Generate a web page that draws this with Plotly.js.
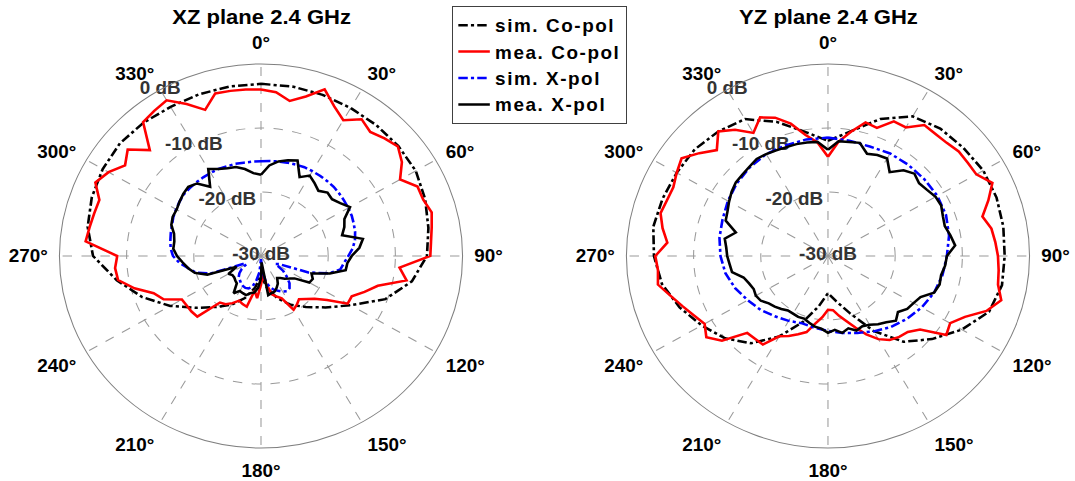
<!DOCTYPE html>
<html>
<head>
<meta charset="utf-8">
<script src="https://cdn.plot.ly/plotly-3.0.1.min.js"></script>
<style>
  html, body { margin:0; padding:0; background:#fff; overflow:hidden; }
  #wrap { width:1075px; height:481px; overflow:hidden; }
  #plot { width:1024px; height:481px; transform: scaleX(1.0498); transform-origin:0 0; }
  .legendtext { letter-spacing: 1.5px; }
</style>
</head>
<body>
<div id="wrap"><div id="plot"></div></div>
<script>
// ---------- data ----------
const titles = ['XZ plane 2.4 GHz', 'YZ plane 2.4 GHz'];
const seriesNames = ['sim. Co-pol', 'mea. Co-pol', 'sim. X-pol', 'mea. X-pol'];

const angTicks = [0, 30, 60, 90, 120, 150, 180, 210, 240, 270, 300, 330];
const angLabels = ['0°','30°','60°','90°','120°','150°','180°','210°','240°','270°','300°','330°'];
const rTicks = [0, -10, -20, -30];
const rLabels = ['0 dB', '-10 dB', '-20 dB', '-30 dB'];
const rLabelAngle = [330, 330, 330, 330];

const theta10 = [0,10,20,30,40,50,60,70,80,90,100,110,120,130,140,150,160,170,180,
  190,200,210,220,230,240,250,260,270,280,290,300,310,320,330,340,350,360];
const theta5 = [0,5,10,15,20,25,30,35,40,45,50,55,60,65,70,75,80,85,90,95,100,105,110,115,
  120,125,130,135,140,145,150,155,160,165,170,175,180,185,190,195,200,205,210,215,220,225,
  230,235,240,245,250,255,260,265,270,275,280,285,290,295,300,305,310,315,320,325,330,335,
  340,345,350,355,360];

// XZ plane
const xzSimCo = [-3.1,-3.1,-3.2,-3.3,-3.3,-3.3,-3.4,-4.0,-4.7,-5.3,-7.2,-10.3,-14.6,-17.5,-19.6,
  -21.2,-23.0,-25.0,-27.0,-25.0,-23.0,-21.2,-19.6,-17.4,-14.4,-11.2,-8.2,-5.0,-3.8,-3.2,-2.8,
  -2.6,-2.8,-3.1,-3.1,-3.1,-3.1];
const xzMeaCo = [-4.0,-4.3,-5.4,-4.2,-2.3,-4.2,-5.5,-3.9,-4.7,-4.0,-3.4,-4.4,-6.1,-4.3,-4.3,-3.7,
  -4.2,-4.6,-4.8,-9.3,-8.0,-12.0,-13.6,-15.1,-15.1,-18.0,-19.6,-20.5,-21.2,-20.7,-20.3,-22.7,
  -23.3,-23.8,-25.6,-27.0,-25.5,-23.4,-24.5,-21.8,-22.0,-22.3,-21.5,-20.8,-20.5,-16.6,-16.5,
  -16.5,-16.4,-14.0,-13.0,-10.5,-8.4,-8.2,-8.6,-3.8,-4.1,-4.3,-4.4,-2.8,-3.8,-5.3,-4.1,-6.6,
  -2.7,-2.3,-1.9,-3.8,-5.7,-3.7,-3.8,-3.9,-4.0];
const xzSimX = [-15.2,-15.1,-15.0,-14.9,-14.8,-14.7,-14.7,-14.7,-14.7,-14.7,-14.8,-14.9,-15.0,
  -15.1,-15.3,-15.5,-15.8,-16.3,-17.0,-17.6,-18.0,-19.5,-22.5,-27.0,-27.5,-26.0,-25.0,-24.0,
  -23.4,-23.3,-23.6,-24.0,-24.4,-25.0,-26.0,-27.5,-29.5,-27.5,-26.2,-25.0,-24.6,-24.5,-24.6,
  -24.8,-25.1,-25.3,-25.8,-26.5,-27.5,-27.0,-22.0,-20.0,-19.0,-17.8,-16.9,-16.5,-16.3,-16.1,
  -15.9,-15.6,-15.4,-15.2,-15.0,-15.0,-15.0,-15.0,-15.0,-15.0,-15.1,-15.1,-15.2,-15.2,-15.2];
const xzMeaX = [-17.3,-15.8,-15.0,-14.5,-14.1,-16.4,-15.5,-16.1,-16.7,-16.0,-16.2,-15.6,-14.7,
  -16.3,-16.8,-17.5,-14.6,-15.3,-16.5,-17.1,-17.2,-19.4,-22.0,-21.5,-21.7,-23.9,-24.5,-25.0,
  -25.5,-25.8,-25.0,-24.5,-24.1,-24.0,-23.8,-29.0,-26.5,-25.0,-24.2,-24.0,-23.5,-23.6,-23.7,
  -22.9,-24.4,-24.6,-24.8,-24.8,-24.4,-26.0,-21.5,-19.8,-19.0,-18.3,-17.5,-16.9,-16.9,-16.6,
  -15.8,-15.5,-15.5,-15.2,-14.9,-14.7,-15.2,-16.8,-14.3,-15.0,-15.4,-15.6,-16.2,-17.0,-17.3];

// YZ plane
const yzSimCo = [-12.0,-10.2,-7.2,-4.8,-4.0,-3.7,-3.3,-3.3,-3.5,-3.7,-3.7,-4.5,-7.0,-9.8,-12.5,
  -16.5,-20.5,-22.8,-24.2,-22.0,-19.0,-15.5,-12.2,-10.0,-8.3,-6.5,-4.9,-4.1,-3.6,-3.8,-4.0,
  -4.1,-4.6,-5.3,-7.7,-10.3,-12.0];
const yzMeaCo = [-14.5,-12.1,-10.3,-8.4,-8.7,-6.8,-6.8,-5.0,-5.1,-5.0,-4.6,-4.6,-4.5,-3.0,-4.6,
  -6.2,-5.3,-5.0,-4.7,-4.5,-4.3,-3.3,-4.9,-7.5,-9.0,-8.5,-12.1,-13.2,-13.5,-14.0,-15.0,-16.5,
  -18.1,-19.5,-20.5,-21.5,-21.6,-20.4,-19.3,-17.7,-17.0,-16.2,-15.5,-13.1,-13.1,-13.0,-9.4,
  -7.9,-8.8,-8.0,-7.0,-5.8,-4.3,-4.6,-4.3,-6.0,-5.0,-4.2,-4.5,-4.6,-4.0,-3.4,-5.0,-6.6,-4.6,
  -5.9,-7.8,-6.1,-7.0,-8.6,-10.8,-12.2,-14.5];
const yzSimX = [-11.5,-11.7,-11.8,-11.5,-11.4,-11.3,-11.2,-11.3,-11.7,-12.3,-12.7,-13.2,-13.9,
  -14.7,-15.5,-16.4,-17.2,-17.8,-18.3,-18.6,-18.8,-18.3,-17.7,-16.9,-16.2,-15.3,-14.5,-14.0,
  -13.6,-13.3,-12.8,-12.3,-11.9,-11.6,-11.6,-11.5,-11.5];
const yzMeaX = [-13.4,-12.0,-11.9,-11.7,-13.0,-12.6,-12.4,-14.0,-12.5,-11.8,-12.3,-12.0,-11.5,
  -11.4,-11.8,-12.0,-11.5,-11.0,-12.3,-12.5,-12.9,-12.8,-13.2,-14.8,-15.3,-15.6,-16.4,-15.7,
  -16.5,-17.0,-17.6,-17.9,-17.6,-18.3,-17.8,-18.4,-18.0,-18.6,-18.8,-19.2,-19.6,-19.5,-19.6,
  -19.6,-19.2,-18.8,-18.5,-17.8,-17.6,-17.8,-17.5,-17.0,-15.5,-15.3,-15.0,-14.8,-14.4,-15.8,
  -13.8,-13.5,-13.0,-12.5,-12.1,-12.0,-11.8,-11.5,-11.6,-11.8,-11.9,-11.9,-12.0,-12.1,-13.4];

// ---------- styling ----------
const FONT = 'Liberation Sans, Arial, Helvetica, sans-serif';
const styles = [
  {color:'#000000', width:2.5, dash:'dashdot'},
  {color:'#ff0000', width:2.5, dash:'solid'},
  {color:'#0000ff', width:2.5, dash:'dashdot'},
  {color:'#000000', width:2.5, dash:'solid'}
];

function planeTraces(subplot, sets, showLegend) {
  const tr = [];
  tr.push({
    type:'scatterpolar', subplot:subplot, mode:'text',
    r:rTicks, theta:rLabelAngle, text:rLabels, textposition:'middle center',
    textfont:{family:FONT, size:18, color:'#333333', weight:'bold'},
    showlegend:false, hoverinfo:'skip', cliponaxis:false
  });
  sets.forEach((s, i) => {
    tr.push({
      type:'scatterpolar', subplot:subplot, mode:'lines',
      r:s.r, theta:s.theta, name:seriesNames[i],
      line:{color:styles[i].color, width:styles[i].width, dash:styles[i].dash},
      showlegend:showLegend, cliponaxis:false
    });
  });
  return tr;
}

const data = [].concat(
  planeTraces('polar', [
    {r:xzSimCo, theta:theta10}, {r:xzMeaCo, theta:theta5},
    {r:xzSimX, theta:theta5}, {r:xzMeaX, theta:theta5}], true),
  planeTraces('polar2', [
    {r:yzSimCo, theta:theta10}, {r:yzMeaCo, theta:theta5},
    {r:yzSimX, theta:theta10}, {r:yzMeaX, theta:theta5}], false)
);

function polarAxis(domX) {
  return {
    domain:{x:domX, y:[0.06861, 0.86694]},
    bgcolor:'#ffffff',
    angularaxis:{
      rotation:90, direction:'clockwise', tickmode:'array',
      tickvals:angTicks, ticktext:angLabels,
      ticks:'outside', ticklen:7, tickcolor:'rgba(0,0,0,0)',
      showline:true, linecolor:'#7f7f7f', linewidth:1,
      showgrid:true, gridcolor:'#9a9a9a', gridwidth:1, griddash:'dash',
      tickfont:{family:FONT, size:18, color:'#000000', weight:'bold'}
    },
    radialaxis:{
      range:[-30, 0], tickmode:'array', tickvals:[-30,-20,-10,0],
      showticklabels:false, ticks:'', showline:false,
      showgrid:true, gridcolor:'#9a9a9a', gridwidth:1, griddash:'dash', angle:120
    }
  };
}

const domL = [0.05529, 0.43029];
const domR = [0.58271, 0.95771];

const layout = {
  width:1024, height:481,
  margin:{l:0, r:0, t:0, b:0},
  paper_bgcolor:'#ffffff',
  font:{family:FONT, color:'#000000'},
  polar:polarAxis(domL),
  polar2:polarAxis(domR),
  showlegend:true,
  legend:{
    x:0.4205, y:0.9875, xanchor:'left', yanchor:'top',
    bgcolor:'#ffffff', bordercolor:'#404040', borderwidth:1,
    font:{family:FONT, size:18, color:'#000000', weight:'bold'},
    tracegroupgap:0
  },
  annotations:[
    {text:titles[0], xref:'paper', yref:'paper', x:(domL[0]+domL[1])/2, y:0.9647,
     xanchor:'center', yanchor:'middle', showarrow:false,
     font:{family:FONT, size:21, color:'#000000', weight:'bold'}},
    {text:titles[1], xref:'paper', yref:'paper', x:(domR[0]+domR[1])/2, y:0.9647,
     xanchor:'center', yanchor:'middle', showarrow:false,
     font:{family:FONT, size:21, color:'#000000', weight:'bold'}}
  ]
};

Plotly.newPlot('plot', data, layout, {staticPlot:true, displayModeBar:false});
</script>
</body>
</html>
